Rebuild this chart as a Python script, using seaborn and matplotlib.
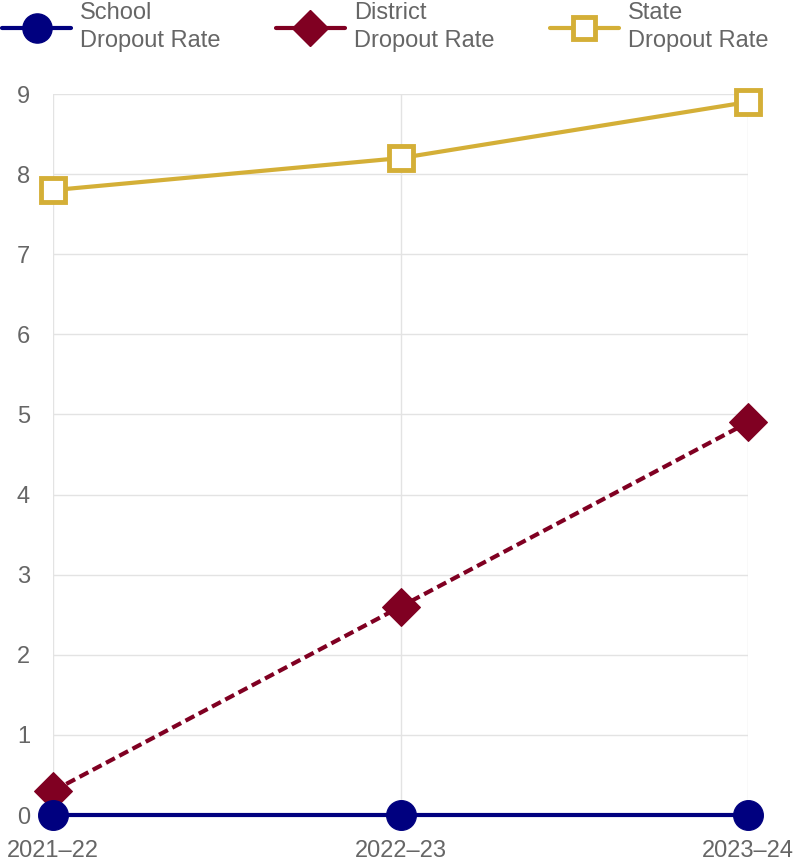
import matplotlib
matplotlib.use("Agg")
import matplotlib.pyplot as plt
import seaborn as sns
import pandas as pd
from matplotlib.lines import Line2D

years = ["2021–22", "2022–23", "2023–24"]
school = [0, 0, 0]
district = [0.3, 2.6, 4.9]
state = [7.8, 8.2, 8.9]
y_ticks = list(range(0, 10))
labels = ["School\nDropout Rate", "District\nDropout Rate", "State\nDropout Rate"]

c_school = "#00007f"
c_district = "#800022"
c_state = "#d4af37"
grid_c = "#e3e3e3"
text_c = "#666666"

sns.set_theme(style="white")
plt.rcParams['font.family'] = ['Liberation Sans', 'DejaVu Sans']

fig = plt.figure(figsize=(7.94, 8.63), dpi=100)
W, H = 794, 863
ax = fig.add_axes([53 / W, (H - 815) / H, (748 - 53) / W, (815 - 94) / H])

df_state = pd.DataFrame({"year": years, "v": state})
df_district = pd.DataFrame({"year": years, "v": district})
df_school = pd.DataFrame({"year": years, "v": school})

LW = 3.0
sns.lineplot(data=df_state, x="year", y="v", ax=ax, color=c_state, lw=LW,
             marker="s", markersize=17, markerfacecolor="white",
             markeredgecolor=c_state, markeredgewidth=3.5, zorder=3, clip_on=False)
sns.lineplot(data=df_district, x="year", y="v", ax=ax, color=c_district, lw=LW,
             linestyle=(0, (2.4, 1.2)), marker="D", markersize=19,
             markerfacecolor=c_district, markeredgecolor=c_district, zorder=4, clip_on=False)
sns.lineplot(data=df_school, x="year", y="v", ax=ax, color=c_school, lw=LW,
             marker="o", markersize=21.5, markerfacecolor=c_school,
             markeredgecolor=c_school, zorder=5, clip_on=False)

ax.set_xlim(0, 2)
ax.set_ylim(0, 9)
ax.set_yticks(y_ticks)
ax.set_xlabel("")
ax.set_ylabel("")
for s in ax.spines.values():
    s.set_visible(False)
ax.grid(True, color=grid_c, lw=1)
ax.set_axisbelow(True)
ax.tick_params(axis="both", length=11.5, color=grid_c, labelcolor=text_c,
               labelsize=17)
ax.tick_params(axis="y", pad=5)
ax.tick_params(axis="x", length=8, pad=10)

handles = [
    Line2D([], [], color=c_school, lw=LW, marker="o", markersize=21,
           markerfacecolor=c_school, markeredgecolor=c_school),
    Line2D([], [], color=c_district, lw=LW, marker="D", markersize=18,
           markerfacecolor=c_district, markeredgecolor=c_district),
    Line2D([], [], color=c_state, lw=LW, marker="s", markersize=16,
           markerfacecolor="white", markeredgecolor=c_state, markeredgewidth=3.5),
]
leg = fig.legend(handles, labels, loc="upper left", bbox_to_anchor=(0.0, 1.0),
                 ncol=3, frameon=False, fontsize=17, labelcolor=text_c,
                 handlelength=2.9, handletextpad=0.4, columnspacing=2.35,
                 borderpad=0.1, borderaxespad=0.0, labelspacing=0.15)
for t in leg.get_texts():
    t.set_linespacing(1.35)

fig.savefig("out.png", dpi=100)
